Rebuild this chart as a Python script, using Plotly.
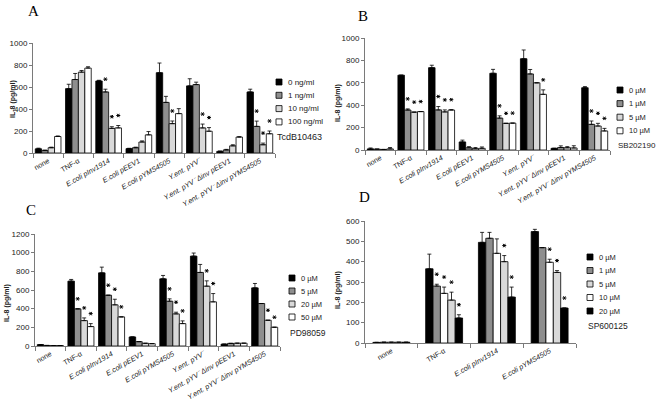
import plotly.graph_objects as go

W, H = 656, 405

# ---------------- data ----------------
cats8 = ["none", "TNF-α", "<i>E.coli pInv1914</i>", "<i>E.coli pEEV1</i>",
         "<i>E.coli pYMS4505</i>", "<i>Y.ent. pYV⁻</i>",
         "<i>Y.ent. pYV⁻ Δinv pEEV1</i>", "<i>Y.ent. pYV⁻ Δinv pYMS4505</i>"]
cats4 = ["none", "TNF-α", "<i>E.coli pInv1914</i>", "<i>E.coli pYMS4505</i>"]

# Panel A  (TcdB10463)
a_names = ["0 ng/ml", "1 ng/ml", "10 ng/ml", "100 ng/ml"]
a0 = [38, 585, 655, 40, 730, 610, 15, 555]
a0_err = [6, 40, 6, 3, 88, 65, 3, 25]
a1 = [22, 668, 555, 48, 460, 622, 28, 242]
a1_err = [5, 55, 25, 5, 55, 22, 5, 48]
a2 = [48, 735, 224, 100, 267, 228, 65, 75]
a2_err = [5, 15, 15, 10, 24, 35, 10, 15]
a3 = [150, 772, 228, 165, 358, 198, 145, 175]
a3_err = [5, 12, 22, 30, 45, 33, 3, 25]
a_stars = [[0] * 8, [0, 0, 1, 0, 0, 0, 0, 1], [0, 0, 1, 0, 1, 1, 0, 1], [0, 0, 1, 0, 0, 1, 0, 1]]

# Panel B  (SB202190)
b_names = ["0 µM", "1 µM", "5 µM", "10 µM"]
b0 = [10, 668, 735, 72, 685, 815, 15, 556]
b0_err = [8, 0, 22, 16, 35, 78, 0, 10]
b1 = [8, 357, 358, 20, 285, 679, 22, 229]
b1_err = [0, 10, 30, 10, 20, 40, 15, 30]
b2 = [5, 338, 340, 12, 238, 600, 20, 214]
b2_err = [0, 0, 18, 10, 0, 0, 10, 24]
b3 = [10, 343, 357, 15, 240, 497, 18, 170]
b3_err = [12, 0, 3, 12, 0, 40, 20, 23]
b_stars = [[0] * 8, [0, 1, 1, 0, 1, 0, 0, 1], [0, 1, 1, 0, 1, 0, 0, 1], [0, 1, 1, 0, 1, 1, 0, 1]]

# Panel C  (PD98059)
c_names = ["0 µM", "5 µM", "20 µM", "50 µM"]
c0 = [15, 695, 784, 97, 720, 963, 20, 623]
c0_err = [0, 18, 61, 0, 36, 33, 0, 47]
c1 = [6, 398, 544, 47, 480, 788, 28, 455]
c1_err = [0, 0, 0, 0, 25, 86, 0, 0]
c2 = [5, 272, 441, 29, 344, 641, 30, 276]
c2_err = [0, 29, 60, 0, 18, 57, 0, 0]
c3 = [5, 208, 312, 25, 240, 473, 30, 201]
c3_err = [0, 32, 0, 0, 29, 89, 0, 0]
c_stars = [[0] * 8, [0, 1, 1, 0, 1, 0, 0, 0], [0, 1, 1, 0, 1, 1, 0, 1], [0, 1, 1, 0, 1, 1, 0, 1]]

# Panel D  (SP600125)
d_names = ["0 µM", "1 µM", "5 µM", "10 µM", "20 µM"]
d0 = [3, 365, 495, 548]
d0_err = [0, 72, 49, 11]
d1 = [4, 280, 515, 469]
d1_err = [0, 9, 29, 0]
d2 = [4, 244, 441, 397]
d2_err = [0, 31, 71, 15]
d3 = [4, 211, 400, 347]
d3_err = [0, 39, 30, 9]
d4 = [4, 123, 226, 172]
d4_err = [0, 16, 49, 0]
d_stars = [[0] * 4, [0, 1, 0, 0], [0, 1, 0, 1], [0, 1, 1, 1], [0, 1, 1, 1]]

# ---------------- style ----------------
BLACK, GRAY, LGRAY, WHITE = "#000000", "#8e8e8e", "#d9d9d9", "#ffffff"
col4 = [BLACK, GRAY, LGRAY, WHITE]
d_bar_cols = [BLACK, GRAY, WHITE, LGRAY, BLACK]
d_leg_cols = [BLACK, GRAY, LGRAY, WHITE, BLACK]
AX = "#7a7a7a"
SANS = "Liberation Sans, Arial, sans-serif"
SERIF = "Liberation Serif, Times New Roman, serif"
STAR_PATH = "M-2,10 L2,10 M-1,8.3 L1,11.7 M-1,11.7 L1,8.3"

panels = [
    dict(key="A", cats=cats8, names=a_names, vals=[a0, a1, a2, a3], errs=[a0_err, a1_err, a2_err, a3_err],
         stars=a_stars, cols=col4, legcols=col4, inhib="TcdB10463", gap=0.15,
         box=(33, 275, 43, 153), rng=1000, dt=200, legfs=8, inhfs=9,
         letter=(33, 11), ytitle=(13, 99), leg=(276, 82, 13.3), inh_y=137),
    dict(key="B", cats=cats8, names=b_names, vals=[b0, b1, b2, b3], errs=[b0_err, b1_err, b2_err, b3_err],
         stars=b_stars, cols=col4, legcols=col4, inhib="SB202190", gap=0.15,
         box=(365, 610, 38, 150), rng=1000, dt=200, legfs=7.5, inhfs=8,
         letter=(363, 16), ytitle=(338, 103), leg=(617, 90, 13.6), inh_y=145),
    dict(key="C", cats=cats8, names=c_names, vals=[c0, c1, c2, c3], errs=[c0_err, c1_err, c2_err, c3_err],
         stars=c_stars, cols=col4, legcols=col4, inhib="PD98059", gap=0.15,
         box=(35, 280, 234, 346), rng=1200, dt=200, legfs=7.5, inhfs=8.5,
         letter=(31, 210), ytitle=(7, 303), leg=(289, 278, 13.0), inh_y=333),
    dict(key="D", cats=cats4, names=d_names, vals=[d0, d1, d2, d3, d4],
         errs=[d0_err, d1_err, d2_err, d3_err, d4_err],
         stars=d_stars, cols=d_bar_cols, legcols=d_leg_cols, inhib="SP600125", gap=0.30,
         box=(365, 576, 221, 343), rng=600, dt=100, legfs=7.5, inhfs=8.5,
         letter=(364, 197), ytitle=(338, 290), leg=(587, 257, 13.5), inh_y=326),
]

fig = go.Figure()
annotations = []
shapes = []


def px(x):
    return x / W


def py(y):
    return 1 - y / H


layout_axes = {}
for k, p in enumerate(panels):
    idx = "" if k == 0 else str(k + 1)
    xa, ya = "x" + idx, "y" + idx
    x0, x1, y0, y1 = p["box"]
    layout_axes["xaxis" + idx] = dict(
        domain=[px(x0), px(x1)], anchor=ya, type="category",
        range=[-0.5, len(p["cats"]) - 0.5],
        showline=True, linecolor=AX, linewidth=1, ticks="outside", ticklen=4,
        tickcolor=AX, tickson="boundaries", tickangle=-30, showgrid=False,
        tickfont=dict(family=SANS, size=7.2, color="#222"), automargin=False, fixedrange=True)
    layout_axes["yaxis" + idx] = dict(
        domain=[py(y1), py(y0)], anchor=xa, range=[0, p["rng"]], dtick=p["dt"], tick0=0,
        showline=True, linecolor=AX, linewidth=1, ticks="outside", ticklen=3, tickcolor=AX,
        showgrid=False, zeroline=False, tickfont=dict(family=SANS, size=8, color="#222"),
        automargin=False, fixedrange=True)

    n = len(p["vals"])
    w = (1 - p["gap"]) / n
    for j in range(n):
        off = -(1 - p["gap"]) / 2 + j * w
        fig.add_trace(go.Bar(
            x=p["cats"], y=p["vals"][j], name=p["names"][j], xaxis=xa, yaxis=ya,
            width=w, offset=off,
            marker=dict(color=p["cols"][j], line=dict(color="black", width=0.8)),
            error_y=dict(type="data", symmetric=False, array=p["errs"][j],
                         arrayminus=[0] * len(p["cats"]), color="black", thickness=0.8, width=2),
            showlegend=False))
        # significance stars (drawn as small asterisk paths above the error bar)
        for i, s in enumerate(p["stars"][j]):
            if s:
                shapes.append(dict(
                    type="path", xref=xa, yref=ya, xsizemode="pixel", ysizemode="pixel",
                    xanchor=i + off + w / 2, yanchor=p["vals"][j][i] + p["errs"][j][i],
                    path=STAR_PATH, line=dict(color="black", width=1)))

    # manual legend
    lx, ly, step = p["leg"]
    for j, nm in enumerate(p["names"]):
        yc = ly + j * step
        shapes.append(dict(type="rect", xref="paper", yref="paper",
                           x0=px(lx), x1=px(lx + 6), y0=py(yc + 3), y1=py(yc - 3),
                           fillcolor=p["legcols"][j], line=dict(color="black", width=0.8)))
        annotations.append(dict(x=px(lx + 10), y=py(yc), xref="paper", yref="paper", text=nm,
                                showarrow=False, xanchor="left", yanchor="middle",
                                font=dict(family=SANS, size=p["legfs"], color="#222")))
    annotations.append(dict(x=px(lx - 1), y=py(p["inh_y"]), xref="paper", yref="paper",
                            text=p["inhib"], showarrow=False, xanchor="left", yanchor="middle",
                            font=dict(family=SANS, size=p["inhfs"], color="#222")))
    # panel letter
    annotations.append(dict(x=px(p["letter"][0]), y=py(p["letter"][1]), xref="paper", yref="paper",
                            text=p["key"], showarrow=False, xanchor="center", yanchor="middle",
                            font=dict(family=SERIF, size=15, color="black")))
    # y axis title
    annotations.append(dict(x=px(p["ytitle"][0]), y=py(p["ytitle"][1]), xref="paper", yref="paper",
                            text="<b>IL-8 (pg/ml)</b>", textangle=-90, showarrow=False,
                            xanchor="center", yanchor="middle",
                            font=dict(family=SANS, size=7, color="#222")))

fig.update_layout(
    width=W, height=H, template="none",
    margin=dict(l=0, r=0, t=0, b=0, autoexpand=False),
    paper_bgcolor="white", plot_bgcolor="white",
    barmode="overlay",
    showlegend=False, annotations=annotations, shapes=shapes,
    **layout_axes)

fig.write_html("out.html", config={"displayModeBar": False, "staticPlot": True},
               post_script="document.body.style.margin='0';document.body.style.overflow='hidden';")
